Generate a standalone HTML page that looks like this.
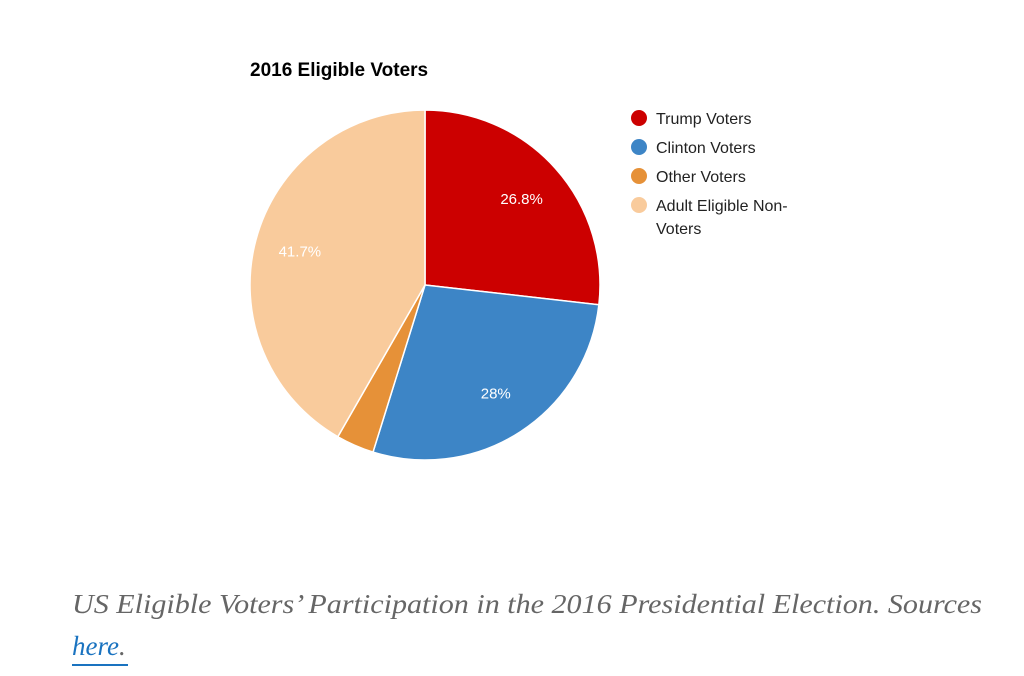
<!DOCTYPE html>
<html><head><meta charset="utf-8"><style>body{margin:0;background:#fff}svg{display:block}</style></head>
<body>
<svg id="chart" width="1024" height="676" viewBox="0 0 1024 676" font-family="Liberation Sans, Arial, sans-serif">
<text x="250" y="76" font-size="19" font-weight="bold" fill="#000">2016 Eligible Voters</text>
<g id="slices"></g>
<g id="legend"></g>
<text x="72" y="613" font-family="Liberation Serif, serif" font-style="italic" font-size="27" fill="#666" textLength="910" lengthAdjust="spacingAndGlyphs">US Eligible Voters’ Participation in the 2016 Presidential Election. Sources</text>
<text x="72" y="655" font-family="Liberation Serif, serif" font-style="italic" font-size="27" fill="#666"><tspan fill="#1a73c0">here</tspan>.</text>
<line x1="72" y1="665" x2="128" y2="665" stroke="#1a73c0" stroke-width="2"/>
</svg>
<script>
const categories=["Trump Voters","Clinton Voters","Other Voters","Adult Eligible Non-Voters"];
const values=[26.8,28,3.5,41.7];
const labels=["26.8%","28%","","41.7%"];
const colors=["#cc0000","#3d85c6","#e69138","#f9cb9c"];
const ns="http://www.w3.org/2000/svg";
const cx=425,cy=285,r=175;
const total=values.reduce((a,b)=>a+b,0);
const g=document.getElementById('slices');
let a0=0;
function pt(a,rr){return [cx+rr*Math.sin(a),cy-rr*Math.cos(a)];}
values.forEach((v,i)=>{
  const a1=a0+v/total*2*Math.PI;
  const p0=pt(a0,r),p1=pt(a1,r);
  const p=document.createElementNS(ns,'path');
  p.setAttribute('d',`M${cx},${cy}L${p0[0]},${p0[1]}A${r},${r} 0 ${a1-a0>Math.PI?1:0} 1 ${p1[0]},${p1[1]}Z`);
  p.setAttribute('fill',colors[i]);p.setAttribute('stroke','#fff');p.setAttribute('stroke-width','1.5');
  
  
  g.appendChild(p);
  if(labels[i]){
    const m=(a0+a1)/2,lp=pt(m,r*0.74);
    const t=document.createElementNS(ns,'text');
    t.setAttribute('x',lp[0]);t.setAttribute('y',lp[1]+5);t.setAttribute('text-anchor','middle');
    t.setAttribute('font-size','15');t.setAttribute('fill','#fff');t.textContent=labels[i];
    
    
    g.appendChild(t);
  }
  a0=a1;
});
const lg=document.getElementById('legend');
const lines=[["Trump Voters"],["Clinton Voters"],["Other Voters"],["Adult Eligible Non-","Voters"]];
categories.forEach((c,i)=>{
  const y=118+i*29;
  const ci=document.createElementNS(ns,'circle');
  ci.setAttribute('cx',639);ci.setAttribute('cy',y);ci.setAttribute('r',8);ci.setAttribute('fill',colors[i]);
  
  
  lg.appendChild(ci);
  lines[i].forEach((s,j)=>{
    const t=document.createElementNS(ns,'text');
    t.setAttribute('x',656);t.setAttribute('y',y+6+j*23);t.setAttribute('font-size','16');t.setAttribute('fill','#222');
    t.textContent=s;
    
    
    lg.appendChild(t);
  });
});
</script>
</body></html>
